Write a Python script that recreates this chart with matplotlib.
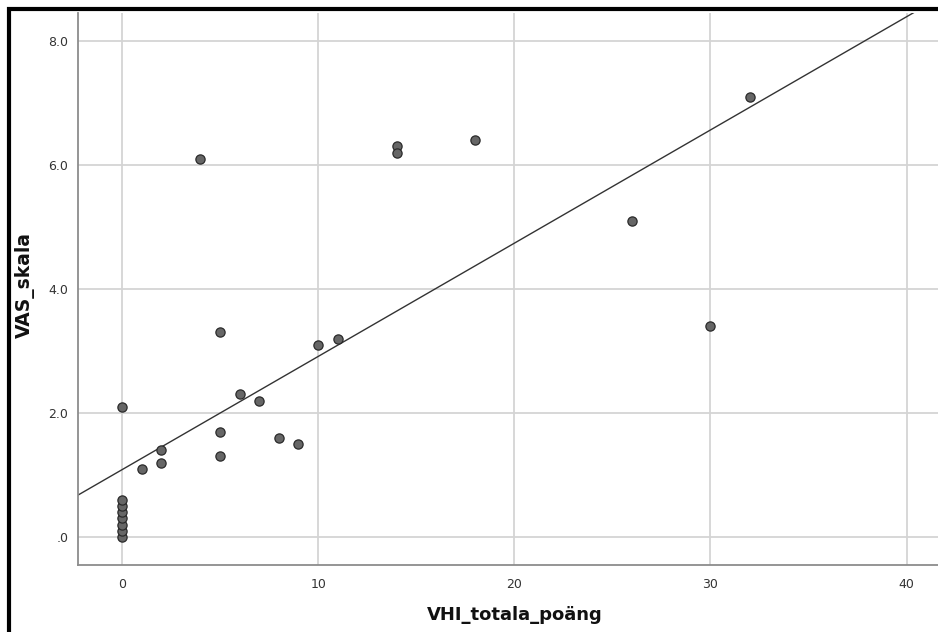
import matplotlib
matplotlib.use("Agg")
import matplotlib.pyplot as plt
from matplotlib.patches import Rectangle
import numpy as np

# ---- data ----
vhi_totala_poang = [0, 0, 0, 0, 0, 0, 0, 0,
                    1, 2, 2, 4, 5, 5, 5, 6, 7, 8, 9, 10, 11,
                    14, 14, 18, 26, 30, 32]
vas_skala = [0.0, 0.1, 0.2, 0.3, 0.4, 0.5, 0.6, 2.1,
             1.1, 1.4, 1.2, 6.1, 3.3, 1.7, 1.3, 2.3, 2.2, 1.6, 1.5, 3.1, 3.2,
             6.3, 6.2, 6.4, 5.1, 3.4, 7.1]
fit_intercept = 1.086
fit_slope = 0.1826
x_ticks = [0, 10, 20, 30, 40]
x_tick_labels = ["0", "10", "20", "30", "40"]
y_ticks = [0, 2, 4, 6, 8]
y_tick_labels = [".0", "2.0", "4.0", "6.0", "8.0"]
x_label = "VHI_totala_poäng"
y_label = "VAS_skala"

W, H = 938, 632
fig = plt.figure(figsize=(W / 100, H / 100), dpi=100)
fig.patch.set_facecolor("white")

ax = fig.add_axes([78 / W, 1 - 565 / H, (W - 78) / W, (565 - 13) / H])
ax.set_xlim(-2.24, 41.6)
ax.set_ylim(-0.45, 8.45)

ax.grid(True, color="#d4d4d4", linewidth=1.3, zorder=0)
ax.set_axisbelow(True)

for s in ["top", "right"]:
    ax.spines[s].set_visible(False)
for s in ["left", "bottom"]:
    ax.spines[s].set_color("#8c8c8c")
    ax.spines[s].set_linewidth(1.3)

ax.set_xticks(x_ticks)
ax.set_xticklabels(x_tick_labels)
ax.set_yticks(y_ticks)
ax.set_yticklabels(y_tick_labels)
ax.tick_params(axis="both", length=0, labelsize=9, labelcolor="#333333")
ax.tick_params(axis="x", pad=9)
ax.tick_params(axis="y", pad=7)

# fit line across the axes range
xl = np.array(ax.get_xlim())
ax.plot(xl, fit_intercept + fit_slope * xl, color="#333333", linewidth=1.0, zorder=2)

ax.scatter(vhi_totala_poang, vas_skala, s=44, facecolor="#666666",
           edgecolor="#2a2a2a", linewidth=0.9, zorder=3, clip_on=False)

ax.set_xlabel(x_label, fontsize=13, fontweight="bold", color="#111111", va="center")
ax.set_ylabel(y_label, fontsize=13.5, fontweight="bold", color="#111111", va="center")
ax.xaxis.set_label_coords((515 - 78) / (W - 78), (565 - 615) / (565 - 13))
ax.yaxis.set_label_coords((25 - 78) / (W - 78), (565 - 285) / (565 - 13))

# outer frame (only left and top visible inside the image)
fig.patches.append(Rectangle((8.5 / W, -0.2), 1.5, 1.2 - 8.5 / H,
                             transform=fig.transFigure, fill=False,
                             edgecolor="black", linewidth=3.0, zorder=10))

fig.savefig("out.png", dpi=100)
